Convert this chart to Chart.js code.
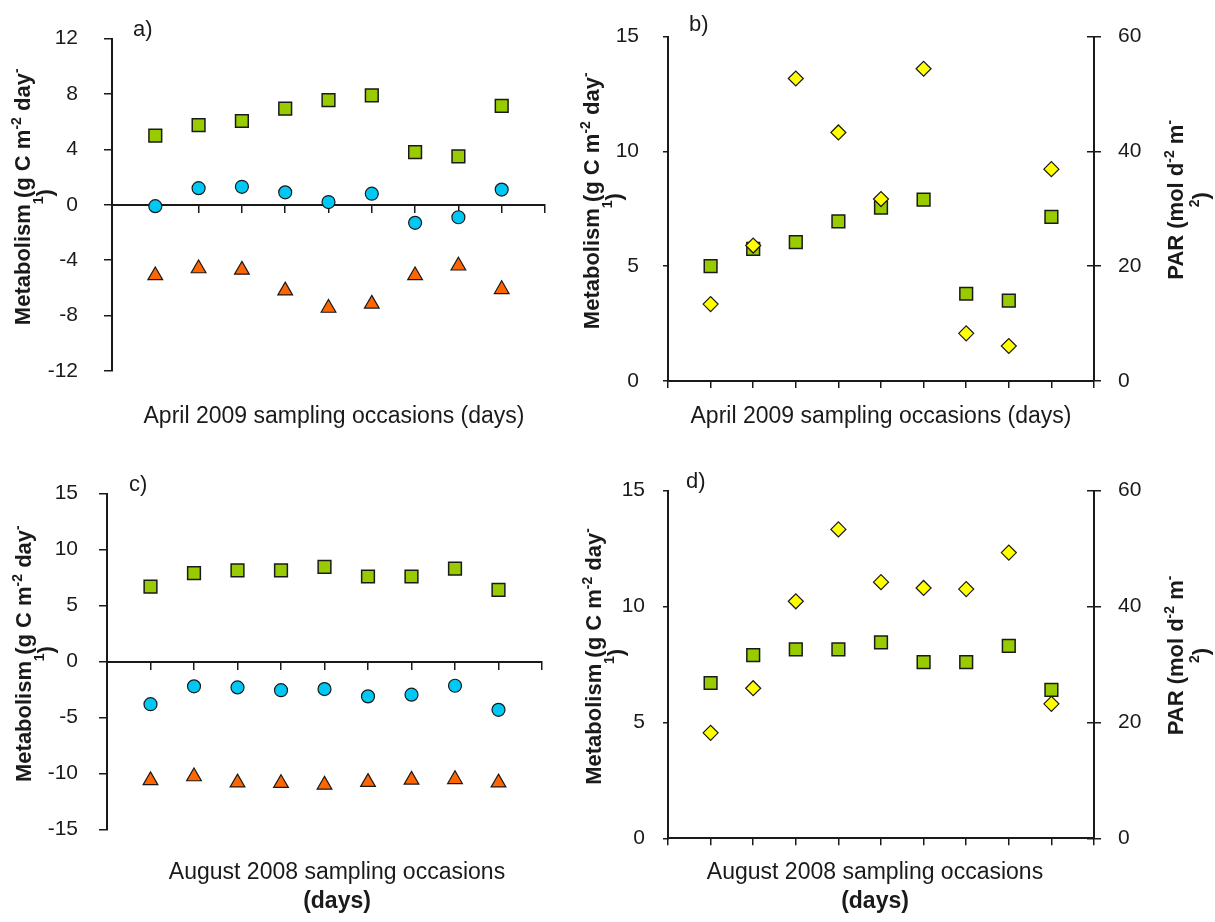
<!DOCTYPE html>
<html>
<head>
<meta charset="utf-8">
<script src="https://cdn.jsdelivr.net/npm/chart.js@4.4.1/dist/chart.umd.min.js"></script>
<style>
  body { margin: 0; background: #fff; width: 1215px; height: 922px; position: relative; overflow: hidden; }
  canvas { position: absolute; }
</style>
</head>
<body>
<canvas id="ca" width="565" height="460" style="left:0;top:0"></canvas>
<canvas id="cb" width="650" height="460" style="left:565px;top:0"></canvas>
<canvas id="cc" width="565" height="462" style="left:0;top:460px"></canvas>
<canvas id="cd" width="650" height="462" style="left:565px;top:460px"></canvas>
<script>
// sampling occasions (days)
const days = [1, 2, 3, 4, 5, 6, 7, 8, 9];
const dayTicks = [0, 1, 2, 3, 4, 5, 6, 7, 8, 9, 10];

// April 2009
const aprGPP = [5.0, 5.75, 6.05, 6.95, 7.55, 7.9, 3.8, 3.5, 7.15];
const aprNEP = [-0.1, 1.2, 1.3, 0.9, 0.2, 0.8, -1.3, -0.9, 1.1];
const aprR = [-5.1, -4.6, -4.7, -6.2, -7.45, -7.15, -5.1, -4.4, -6.1];
const aprPAR = [13.4, 23.6, 52.7, 43.3, 31.7, 54.4, 8.3, 6.1, 36.9];

// August 2008
const augGPP = [6.7, 7.9, 8.15, 8.15, 8.45, 7.6, 7.6, 8.3, 6.4];
const augNEP = [-3.8, -2.2, -2.3, -2.55, -2.45, -3.1, -2.95, -2.15, -4.3];
const augR = [-10.6, -10.25, -10.8, -10.85, -11.0, -10.75, -10.55, -10.5, -10.8];
const augPAR = [18.2, 25.9, 40.9, 53.3, 44.2, 43.2, 43.0, 49.3, 23.2];

// axis ticks
const aprMetTicks = [-12, -8, -4, 0, 4, 8, 12];
const augMetTicks = [-15, -10, -5, 0, 5, 10, 15];
const gppTicks = [0, 5, 10, 15];
const parTicks = [0, 20, 40, 60];

const FONT = '"Liberation Sans", Arial, sans-serif';
const ink = '#1a1a1a';
Chart.defaults.font.family = FONT;
Chart.defaults.color = ink;

const pts = vals => days.map((d, i) => ({ x: d, y: vals[i] }));
const setTicks = list => s => { s.ticks = list.map(v => ({ value: v })); };

const gpp = vals => ({ label: 'GPP', data: pts(vals), pointStyle: 'rect', pointRadius: 9,
  backgroundColor: '#99cc00', borderColor: ink, borderWidth: 1.5, yAxisID: 'y' });
const nep = vals => ({ label: 'NEP', data: pts(vals), pointStyle: 'circle', pointRadius: 6.5,
  backgroundColor: '#00c8f5', borderColor: ink, borderWidth: 1.2, yAxisID: 'y' });
const resp = vals => ({ label: 'R', data: pts(vals), pointStyle: 'triangle', pointRadius: 8.5,
  backgroundColor: '#ff6600', borderColor: ink, borderWidth: 1.2, yAxisID: 'y' });
const par = vals => ({ label: 'PAR', data: pts(vals), pointStyle: 'rectRot', pointRadius: 7.5,
  backgroundColor: '#ffff00', borderColor: ink, borderWidth: 1.2, yAxisID: 'y2' });

// text with superscripts, centred on x
function drawRich(ctx, segs, x, y, size) {
  let w = 0;
  const parts = segs.map(s => {
    const font = 'bold ' + (s.sup ? Math.round(size * 0.62) : size) + 'px ' + FONT;
    ctx.font = font;
    const m = ctx.measureText(s.t).width;
    w += m;
    return { s, m, font };
  });
  let cx = x - w / 2;
  ctx.textAlign = 'left';
  ctx.textBaseline = 'middle';
  parts.forEach(p => {
    ctx.font = p.font;
    ctx.fillText(p.s.t, cx, y + (p.s.sup ? -size * 0.33 : 0));
    cx += p.m;
  });
}

function drawVertical(ctx, lines, xs, cy, size) {
  lines.forEach((segs, i) => {
    ctx.save();
    ctx.translate(xs[i], cy);
    ctx.rotate(-Math.PI / 2);
    drawRich(ctx, segs, 0, 0, size);
    ctx.restore();
  });
}

const metTitle = [
  [{ t: 'Metabolism (g C m' }, { t: '-2', sup: true }, { t: ' day' }, { t: '-', sup: true }],
  [{ t: '1', sup: true }, { t: ')' }]
];
const parTitle = [
  [{ t: 'PAR (mol d' }, { t: '-2', sup: true }, { t: ' m' }, { t: '-', sup: true }],
  [{ t: '2', sup: true }, { t: ')' }]
];

const panelText = {
  id: 'panelText',
  afterDraw(chart, args, o) {
    const ctx = chart.ctx;
    const area = chart.chartArea;
    const cy = (area.top + area.bottom) / 2;
    ctx.save();
    ctx.fillStyle = ink;
    ctx.font = '22px ' + FONT;
    ctx.textAlign = 'left';
    ctx.textBaseline = 'middle';
    ctx.fillText(o.label, o.labelX, o.labelY);
    drawVertical(ctx, metTitle, o.yTitleX, cy - 8, 22);
    if (o.parTitleX) drawVertical(ctx, parTitle, o.parTitleX, cy - 9, 22);
    ctx.textAlign = 'center';
    o.xTitle.forEach((line, i) => {
      ctx.font = (i === 1 ? 'bold ' : '') + '23px ' + FONT;
      ctx.fillText(line, o.xTitleX, o.xTitleY[i]);
    });
    ctx.restore();
  }
};

const axisLine = { color: ink, width: 2 };
const tickFont = { size: 21 };

function xScale(pos) {
  return {
    type: 'linear', min: 0, max: 10, position: pos,
    afterBuildTicks: setTicks(dayTicks),
    ticks: { display: false },
    grid: { drawOnChartArea: false, tickLength: 7, color: ink, lineWidth: 1.5 },
    border: axisLine,
    afterFit: s => { s.height = 0; }
  };
}

// labels are clipped to the scale box, so the box fills the whole left margin
function leftScale(list, tl, pad, width) {
  return {
    type: 'linear', position: 'left', min: list[0], max: list[list.length - 1],
    afterBuildTicks: setTicks(list),
    ticks: { font: tickFont, padding: pad, color: ink },
    grid: { drawOnChartArea: false, tickLength: tl, color: ink, lineWidth: 1.5 },
    border: axisLine,
    afterFit: s => { s.width = width; }
  };
}

function rightScales(width) {
  return {
    y2: {
      type: 'linear', position: 'right', min: 0, max: 60,
      afterBuildTicks: setTicks(parTicks),
      ticks: { font: tickFont, padding: 17, color: ink },
      grid: { drawOnChartArea: false, tickLength: 7, color: ink, lineWidth: 1.5 },
      border: axisLine,
      afterFit: s => { s.width = width; }
    },
    // inner half of the crossing tick marks on the PAR axis
    y3: {
      type: 'linear', position: { x: 10 }, min: 0, max: 60,
      afterBuildTicks: setTicks(parTicks),
      ticks: { display: false },
      grid: { drawOnChartArea: false, tickLength: 7, color: ink, lineWidth: 1.5 },
      border: { display: false },
      afterFit: s => { s.width = 0; }
    }
  };
}

function makeChart(id, datasets, scales, padding, text) {
  return new Chart(document.getElementById(id), {
    type: 'scatter',
    data: { datasets },
    options: {
      responsive: false,
      animation: false,
      devicePixelRatio: 1,
      events: [],
      layout: { padding },
      scales,
      plugins: { legend: { display: false }, tooltip: { enabled: false }, panelText: text }
    },
    plugins: [panelText]
  });
}

// a) April 2009 metabolism
makeChart('ca',
  [gpp(aprGPP), nep(aprNEP), resp(aprR)],
  { x: xScale({ y: 0 }), y: leftScale(aprMetTicks, 8, 26, 112) },
  { left: 0, top: 24.5, right: 20, bottom: 89 },
  { label: 'a)', labelX: 133, labelY: 30, yTitleX: [24, 46],
    xTitle: ['April 2009 sampling occasions (days)'], xTitleX: 334, xTitleY: [417] });

// b) April 2009 GPP and PAR
makeChart('cb',
  [par(aprPAR), gpp(aprGPP)],
  Object.assign({ x: xScale('bottom'), y: leftScale(gppTicks, 5, 24, 103) }, rightScales(121)),
  { left: 0, top: 22.3, right: 0, bottom: 79 },
  { label: 'b)', labelX: 124, labelY: 25, yTitleX: [28, 50], parTitleX: [612, 637],
    xTitle: ['April 2009 sampling occasions (days)'], xTitleX: 316, xTitleY: [417] });

// c) August 2008 metabolism
makeChart('cc',
  [gpp(augGPP), nep(augNEP), resp(augR)],
  { x: xScale({ y: 0 }), y: leftScale(augMetTicks, 8, 21, 107) },
  { left: 0, top: 21.7, right: 23, bottom: 92.3 },
  { label: 'c)', labelX: 129, labelY: 25, yTitleX: [25, 47],
    xTitle: ['August 2008 sampling occasions', '(days)'], xTitleX: 337, xTitleY: [413, 442] });

// d) August 2008 GPP and PAR
makeChart('cd',
  [par(augPAR), gpp(augGPP)],
  Object.assign({ x: xScale('bottom'), y: leftScale(gppTicks, 5, 18, 103) }, rightScales(121)),
  { left: 0, top: 20.3, right: 0, bottom: 83.7 },
  { label: 'd)', labelX: 121, labelY: 22, yTitleX: [30, 52], parTitleX: [612, 637],
    xTitle: ['August 2008 sampling occasions', '(days)'], xTitleX: 310, xTitleY: [413, 442] });
</script>
</body>
</html>
